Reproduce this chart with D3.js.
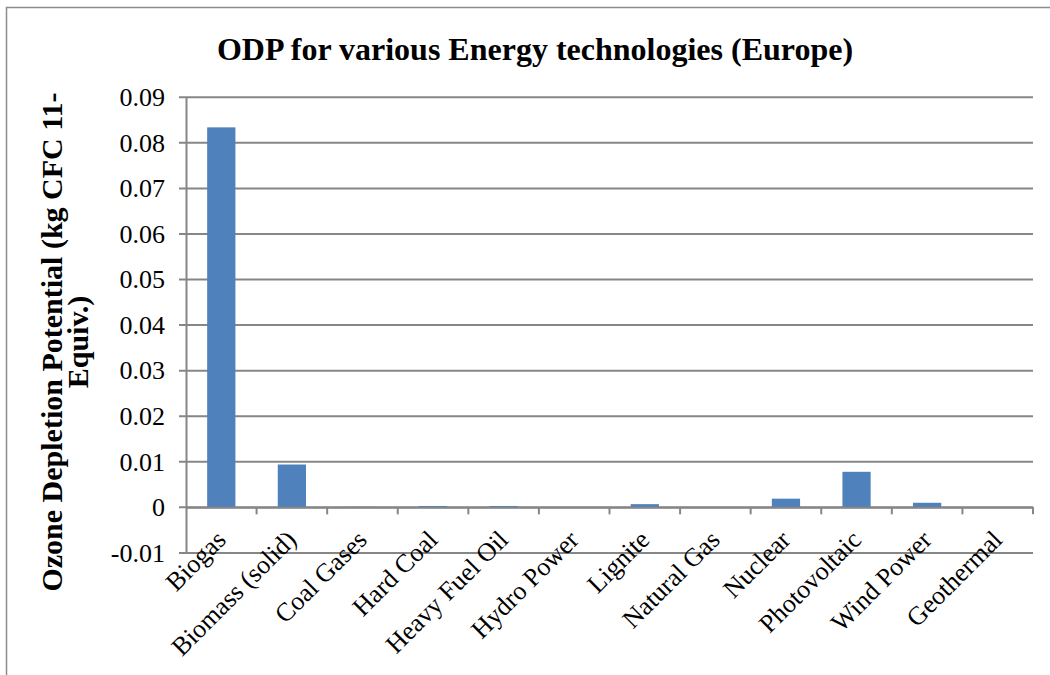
<!DOCTYPE html>
<html>
<head>
<meta charset="utf-8">
<script src="https://cdn.jsdelivr.net/npm/d3@7"></script>
<style>
  body { margin: 0; background: #fff; }
  svg { display: block; font-family: "Liberation Serif", "Times New Roman", serif; }
</style>
</head>
<body>
<div id="chart"></div>
<script>
var categories = ["Biogas", "Biomass (solid)", "Coal Gases", "Hard Coal", "Heavy Fuel Oil",
    "Hydro Power", "Lignite", "Natural Gas", "Nuclear", "Photovoltaic", "Wind Power", "Geothermal"];
var odpValues = [0.0834, 0.0094, 0.0001, 0.0003, 0.0003, 0, 0.0007, 0, 0.0019, 0.0078, 0.001, 0];
var yTicks = [-0.01, 0, 0.01, 0.02, 0.03, 0.04, 0.05, 0.06, 0.07, 0.08, 0.09];

function init() {
    var w = 1050;
    var h = 675;
    var left = 186, right = 1033, top = 97.3, bottom = 552.9;

    var svg = d3.select("#chart")
        .append("svg")
        .attr("width", w)
        .attr("height", h);

    // outer chart frame (cut off at right and bottom)
    svg.append("path")
        .attr("d", "M6.5," + h + " V7.5 H" + w)
        .attr("fill", "none")
        .attr("stroke", "#8c8c8c")
        .attr("stroke-width", 1.5);

    var x = d3.scaleBand()
        .domain(categories)
        .range([left, right])
        .paddingInner(0.6)
        .paddingOuter(0.3);

    var xBand = d3.scaleBand()
        .domain(categories)
        .range([left, right]);

    var y = d3.scaleLinear()
        .domain([-0.01, 0.09])
        .range([bottom, top]);

    // gridlines
    svg.append("g")
        .selectAll("line")
        .data(yTicks)
        .enter()
        .append("line")
        .attr("x1", left - 7)
        .attr("x2", right)
        .attr("y1", function (d) { return y(d); })
        .attr("y2", function (d) { return y(d); })
        .attr("stroke", "#868686")
        .attr("stroke-width", 2);

    // y axis labels
    var yAxis = d3.axisLeft(y)
        .tickValues(yTicks)
        .tickSize(0)
        .tickPadding(21)
        .tickFormat(function (d) { return d === 0 ? "0" : d.toFixed(2); });

    var gy = svg.append("g")
        .attr("transform", "translate(" + left + ",0)")
        .call(yAxis);
    gy.select(".domain").attr("stroke", "#868686").attr("stroke-width", 2);
    gy.selectAll("text")
        .attr("font-size", "26px")
        .attr("fill", "#000")
        .attr("font-family", "Liberation Serif, Times New Roman, serif");

    // bars
    svg.selectAll("rect.bar")
        .data(odpValues)
        .enter()
        .append("rect")
        .attr("class", "bar")
        .attr("x", function (d, i) { return x(categories[i]); })
        .attr("width", x.bandwidth())
        .attr("y", function (d) { return y(d); })
        .attr("height", function (d) { return y(0) - y(d); })
        .attr("fill", "#4f81bd");

    // x axis at zero
    var xAxis = d3.axisBottom(xBand)
        .tickSize(0)
        .tickFormat("");
    var gx = svg.append("g")
        .attr("transform", "translate(0," + y(0) + ")")
        .call(xAxis);
    gx.select(".domain").attr("stroke", "#868686").attr("stroke-width", 2);

    // category tick marks between bands
    svg.append("g")
        .selectAll("line")
        .data(categories)
        .enter()
        .append("line")
        .attr("x1", function (d) { return xBand(d) + xBand.bandwidth(); })
        .attr("x2", function (d) { return xBand(d) + xBand.bandwidth(); })
        .attr("y1", y(0))
        .attr("y2", y(0) + 7)
        .attr("stroke", "#868686")
        .attr("stroke-width", 2);

    // category labels
    svg.append("g")
        .selectAll("text")
        .data(categories)
        .enter()
        .append("text")
        .text(function (d) { return d; })
        .attr("font-size", "26px")
        .attr("text-anchor", "end")
        .attr("transform", function (d) {
            var cx = xBand(d) + xBand.bandwidth() / 2 + 6;
            return "translate(" + cx + "," + (y(0) + 34) + ") rotate(-45)";
        });

    // title
    svg.append("text")
        .attr("x", 535)
        .attr("y", 60)
        .attr("text-anchor", "middle")
        .attr("font-size", "32px")
        .attr("font-weight", "bold")
        .text("ODP for various Energy technologies (Europe)");

    // y axis title
    var yt = svg.append("text")
        .attr("text-anchor", "middle")
        .attr("font-size", "30px")
        .attr("font-weight", "bold")
        .attr("transform", "translate(62,342) rotate(-90)");
    yt.append("tspan").attr("x", 0).attr("dy", 0).text("Ozone Depletion Potential (kg CFC 11-");
    yt.append("tspan").attr("x", 0).attr("dy", 26).text("Equiv.)");
}

window.onload = init;
</script>
</body>
</html>
